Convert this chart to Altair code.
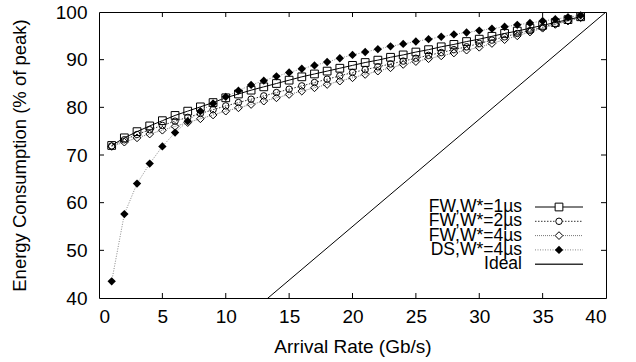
import altair as alt
import pandas as pd

# ---- data ----
rate = list(range(1, 39))
fw1 = [72.0, 73.6, 74.9, 76.1, 77.2, 78.3, 79.2, 80.1, 81.0, 82.0,
       82.8, 83.6, 84.3, 85.0, 85.7, 86.4, 87.0, 87.6, 88.2, 88.8,
       89.4, 89.9, 90.5, 91.0, 91.6, 92.1, 92.7, 93.2, 93.8, 94.3,
       94.9, 95.5, 96.0, 96.6, 97.2, 97.8, 98.4, 99.0]
fw2 = [71.9, 73.2, 74.3, 75.3, 76.2, 77.1, 77.9, 78.7, 79.5, 80.3,
       81.0, 81.7, 82.4, 83.1, 83.8, 84.5, 85.2, 85.9, 86.6, 87.3,
       87.9, 88.5, 89.1, 89.7, 90.3, 90.9, 91.5, 92.1, 92.7, 93.4,
       94.1, 94.8, 95.5, 96.1, 96.8, 97.5, 98.2, 98.9]
fw4 = [71.8, 72.7, 73.6, 74.4, 75.2, 76.0, 76.8, 77.6, 78.4, 79.2,
       79.9, 80.6, 81.3, 82.0, 82.7, 83.4, 84.1, 84.8, 85.5, 86.2,
       86.9, 87.6, 88.3, 89.0, 89.6, 90.2, 90.8, 91.4, 92.0, 92.6,
       93.4, 94.2, 95.0, 95.8, 96.6, 97.4, 98.1, 98.8]
ds = [43.5, 57.6, 64.0, 68.2, 71.8, 74.7, 77.1, 79.2, 80.8, 82.2,
      83.5, 84.7, 85.6, 86.5, 87.3, 88.1, 88.8, 89.5, 90.3, 91.0,
      91.6, 92.2, 92.8, 93.3, 93.8, 94.3, 94.8, 95.3, 95.7, 96.1,
      96.5, 96.9, 97.3, 97.7, 98.1, 98.5, 98.9, 99.3]
ideal_x = [0, 40]
ideal_y = [10, 100]
x_ticks = [0, 5, 10, 15, 20, 25, 30, 35, 40]
y_ticks = [40, 50, 60, 70, 80, 90, 100]
legend_labels = ["FW,W*=1\u00b5s", "FW,W*=2\u00b5s", "FW,W*=4\u00b5s", "DS,W*=4\u00b5s", "Ideal"]

# ---- layout / style ----
W, H = 507, 286
FONT = "Liberation Sans"
FS = 19
TICK = 5

xs = alt.Scale(domain=[0, 40], nice=False, zero=False)
ys = alt.Scale(domain=[40, 100], nice=False, zero=False)

x_axis = alt.Axis(values=x_ticks, title="Arrival Rate (Gb/s)", tickSize=0, domain=False, grid=False,
                  labelFont=FONT, labelFontSize=FS, labelColor="black", labelPadding=9,
                  titleFont=FONT, titleFontSize=FS, titleFontWeight="normal", titleColor="black",
                  titleY=48, titleBaseline="middle")
y_axis = alt.Axis(values=y_ticks, title="Energy Consumption (% of peak)", tickSize=0, domain=False,
                  grid=False, labelFont=FONT, labelFontSize=FS, labelColor="black", labelPadding=12,
                  titleFont=FONT, titleFontSize=18.5, titleFontWeight="normal", titleColor="black",
                  titleX=-80, titleY=H / 2, titleBaseline="middle", titleAngle=-90)


def series_layer(vals, color, dash, shape, filled, size):
    df = pd.DataFrame({"rate": rate, "v": vals})
    base = alt.Chart(df).encode(
        x=alt.X("rate:Q", scale=xs, axis=x_axis),
        y=alt.Y("v:Q", scale=ys, axis=y_axis),
    )
    line_kw = dict(color=color, strokeWidth=1)
    if dash:
        line_kw["strokeDash"] = dash
    line = base.mark_line(**line_kw)
    pts = base.mark_point(shape=shape, filled=filled, size=size, color="black",
                          strokeWidth=1, opacity=1)
    return [line, pts]


styles = [
    (fw1, "black", None, "square", False, 60),
    (fw2, "#333333", [1.5, 1.5], "circle", False, 42),
    (fw4, "#777777", [1, 1], "diamond", False, 60),
    (ds, "#888888", [1, 1.5], "diamond", True, 70),
]

layers = []

ideal_df = pd.DataFrame({"x": ideal_x, "y": ideal_y})
layers.append(alt.Chart(ideal_df).mark_line(color="black", strokeWidth=1, clip=True).encode(
    x=alt.X("x:Q", scale=xs, axis=x_axis), y=alt.Y("y:Q", scale=ys, axis=y_axis)))

for s in styles:
    layers += series_layer(*s)

# inward ticks on all four sides
xt = pd.DataFrame({"t": x_ticks[1:-1]})
yt = pd.DataFrame({"t": y_ticks[1:-1]})
for y0, y1 in [(H, H - TICK), (0, TICK)]:
    layers.append(alt.Chart(xt).mark_rule(color="black", strokeWidth=1).encode(
        x=alt.X("t:Q", scale=xs, axis=x_axis), y=alt.value(y0), y2=alt.value(y1)))
for x0, x1 in [(0, TICK), (W, W - TICK)]:
    layers.append(alt.Chart(yt).mark_rule(color="black", strokeWidth=1).encode(
        y=alt.Y("t:Q", scale=ys, axis=y_axis), x=alt.value(x0), x2=alt.value(x1)))

# manual legend: label on the left, sample on the right
leg_text_x = 423
leg_line = (436, 484)
leg_mark_x = 460
leg_y0 = 195
leg_dy = 14.3
leg_styles = [
    ("black", None, "square", False, 60),
    ("#333333", [1.5, 1.5], "circle", False, 42),
    ("#777777", [1, 1], "diamond", False, 60),
    ("#888888", [1, 1.5], "diamond", True, 70),
    ("#333333", None, None, None, None),
]
for i, (lab, st) in enumerate(zip(legend_labels, leg_styles)):
    yy = leg_y0 + i * leg_dy
    d = pd.DataFrame({"label": [lab]})
    layers.append(alt.Chart(d).mark_text(align="right", baseline="middle", font=FONT,
                                         fontSize=17.5, color="black").encode(
        text="label:N", x=alt.value(leg_text_x), y=alt.value(yy)))
    color, dash, shape, filled, size = st
    rk = dict(color=color, strokeWidth=1 if shape else 1.5)
    if dash:
        rk["strokeDash"] = dash
    layers.append(alt.Chart(d).mark_rule(**rk).encode(
        x=alt.value(leg_line[0]), x2=alt.value(leg_line[1]), y=alt.value(yy)))
    if shape:
        layers.append(alt.Chart(d).mark_point(shape=shape, filled=filled, size=size,
                                              color="black", strokeWidth=1, opacity=1,
                                              fill="white" if not filled else "black").encode(
            x=alt.value(leg_mark_x), y=alt.value(yy)))

chart = alt.layer(*layers).properties(
    width=W, height=H,
    autosize=alt.AutoSizeParams(type="none"),
    padding={"left": 99, "top": 12, "right": 30, "bottom": 64},
    background="white",
).configure_view(stroke="black", strokeWidth=1)

chart.save("out.html", embed_options={"renderer": "svg", "actions": False})
